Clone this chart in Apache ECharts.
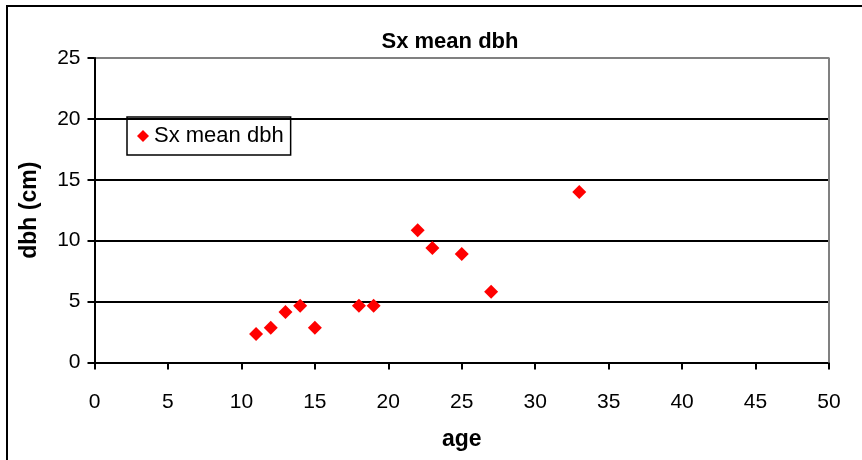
<!DOCTYPE html>
<html>
<head>
<meta charset="utf-8">
<script src="https://cdn.jsdelivr.net/npm/echarts@6/dist/echarts.min.js"></script>
<style>html,body{margin:0;padding:0;background:#fff}#c{width:862px;height:460px}</style>
</head>
<body>
<div id="c"></div>
<script>
var ages = [11, 12, 13, 14, 15, 18, 19, 22, 23, 25, 27, 33];
var dbh = [2.35, 2.85, 4.15, 4.65, 2.85, 4.65, 4.65, 10.85, 9.4, 8.9, 5.8, 14.0];
var seriesName = 'Sx mean dbh';
var chartTitle = 'Sx mean dbh';
var xName = 'age';
var yName = 'dbh (cm)';

var chart = echarts.init(document.getElementById('c'), null, {renderer: 'canvas'});
var font = '"Liberation Sans", Arial, sans-serif';
chart.setOption({
  animation: false,
  backgroundColor: '#fff',
  title: {
    text: chartTitle, left: 445, top: 26, textAlign: 'center',
    textStyle: {fontFamily: font, fontSize: 22, fontWeight: 'bold', color: '#000'}
  },
  legend: {
    data: [{name: seriesName, icon: 'diamond'}],
    left: 127, top: 117, orient: 'vertical',
    borderColor: '#000', borderWidth: 1.5, padding: [8, 7, 8, 10],
    itemWidth: 12, itemHeight: 12, itemGap: 4,
    textStyle: {fontFamily: font, fontSize: 22, color: '#000'}
  },
  grid: {left: 94.5, right: 33, top: 58, bottom: 97.5},
  xAxis: {
    type: 'value', min: 0, max: 50, interval: 5,
    name: xName, nameLocation: 'middle', nameGap: 66,
    nameTextStyle: {fontFamily: font, fontSize: 23, fontWeight: 'bold', color: '#000'},
    axisLine: {onZero: false, lineStyle: {color: '#000', width: 2}},
    axisTick: {show: true, length: 7, lineStyle: {color: '#000', width: 2}},
    axisLabel: {fontFamily: font, fontSize: 21, color: '#000', margin: 29},
    splitLine: {show: false}
  },
  yAxis: {
    type: 'value', min: 0, max: 25, interval: 5,
    name: yName, nameLocation: 'middle', nameGap: 53, nameRotate: 90,
    nameTextStyle: {fontFamily: font, fontSize: 23, fontWeight: 'bold', color: '#000'},
    axisLine: {onZero: false, lineStyle: {color: '#000', width: 2}},
    axisTick: {show: true, length: 7, lineStyle: {color: '#000', width: 2}},
    axisLabel: {fontFamily: font, fontSize: 21, color: '#000', margin: 14},
    splitLine: {show: true, lineStyle: {color: ['#000', '#000', '#000', '#000', '#000', '#808080'], width: 2}}
  },
  graphic: [
    {type: 'rect', shape: {x: 7, y: 6, width: 900, height: 500}, style: {fill: 'none', stroke: '#000', lineWidth: 2}, z: -1},
    {type: 'line', shape: {x1: 829, y1: 57.5, x2: 829, y2: 362.5}, style: {stroke: '#808080', lineWidth: 2}, z: 1}
  ],
  series: [{
    name: seriesName, type: 'scatter', symbol: 'diamond', symbolSize: 14,
    itemStyle: {color: '#ff0000', opacity: 1},
    data: ages.map(function (a, i) { return [a, dbh[i]]; })
  }]
});
</script>
</body>
</html>
